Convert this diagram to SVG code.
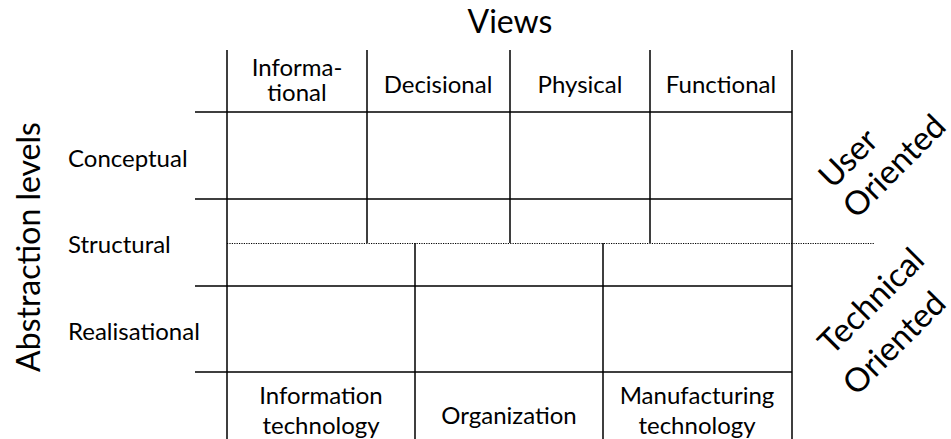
<svg xmlns="http://www.w3.org/2000/svg" width="951" height="439" viewBox="0 0 951 439">
<style>
text{font-family:Lato,"Open Sans","Liberation Sans",sans-serif;fill:#000}
.h{font-size:24px;text-anchor:middle}
.r{font-size:24px}
.big{font-size:32px;text-anchor:middle}
.rot{font-size:33px;text-anchor:middle}
.l{stroke:#000;stroke-width:1.5;fill:none}
.d{stroke:#000;stroke-width:1.2;stroke-dasharray:1.2 1.2;fill:none}
</style>
<rect width="951" height="439" fill="#fff"/>
<g id="connectors">
<path class="l" d="M227 50V439M792 50V439M367 50V243M510 50V243M650 50V243M415 243V439M603 243V439"/>
<path class="l" d="M195 112H792M195 199H792M195 286H792M195 372H792"/>
<path class="d" d="M227 243.5H875"/>
</g>
<g id="title"><text class="big" x="510" y="33">Views</text></g>
<g id="axis"><text class="big" font-size="34" transform="translate(40 247) rotate(-90)">Abstraction levels</text></g>
<g id="view-informational"><text class="h"><tspan x="297" y="76">Informa-</tspan><tspan x="297" y="101">tional</tspan></text></g>
<g id="view-decisional"><text class="h" x="438" y="93">Decisional</text></g>
<g id="view-physical"><text class="h" x="580" y="93">Physical</text></g>
<g id="view-functional"><text class="h" x="721" y="93">Functional</text></g>
<g id="level-conceptual"><text class="r" x="68" y="167">Conceptual</text></g>
<g id="level-structural"><text class="r" x="68" y="253">Structural</text></g>
<g id="level-realisational"><text class="r" x="68" y="340">Realisational</text></g>
<g id="bottom-it"><text class="h" x="321" y="404">Information</text><text class="h" x="321" y="434">technology</text></g>
<g id="bottom-org"><text class="h" x="509" y="424">Organization</text></g>
<g id="bottom-mt"><text class="h" x="697" y="404">Manufacturing</text><text class="h" x="697" y="434">technology</text></g>
<g id="user-oriented">
<text class="rot" transform="translate(848 158) rotate(-45)" dy="0.35em">User</text>
<text class="rot" font-size="32" transform="translate(894 166) rotate(-45)" dy="0.35em">Oriented</text>
</g>
<g id="technical-oriented">
<text class="rot" transform="translate(871 301) rotate(-45)" dy="0.35em">Technical</text>
<text class="rot" font-size="32" transform="translate(894 343) rotate(-45)" dy="0.35em">Oriented</text>
</g>
</svg>
